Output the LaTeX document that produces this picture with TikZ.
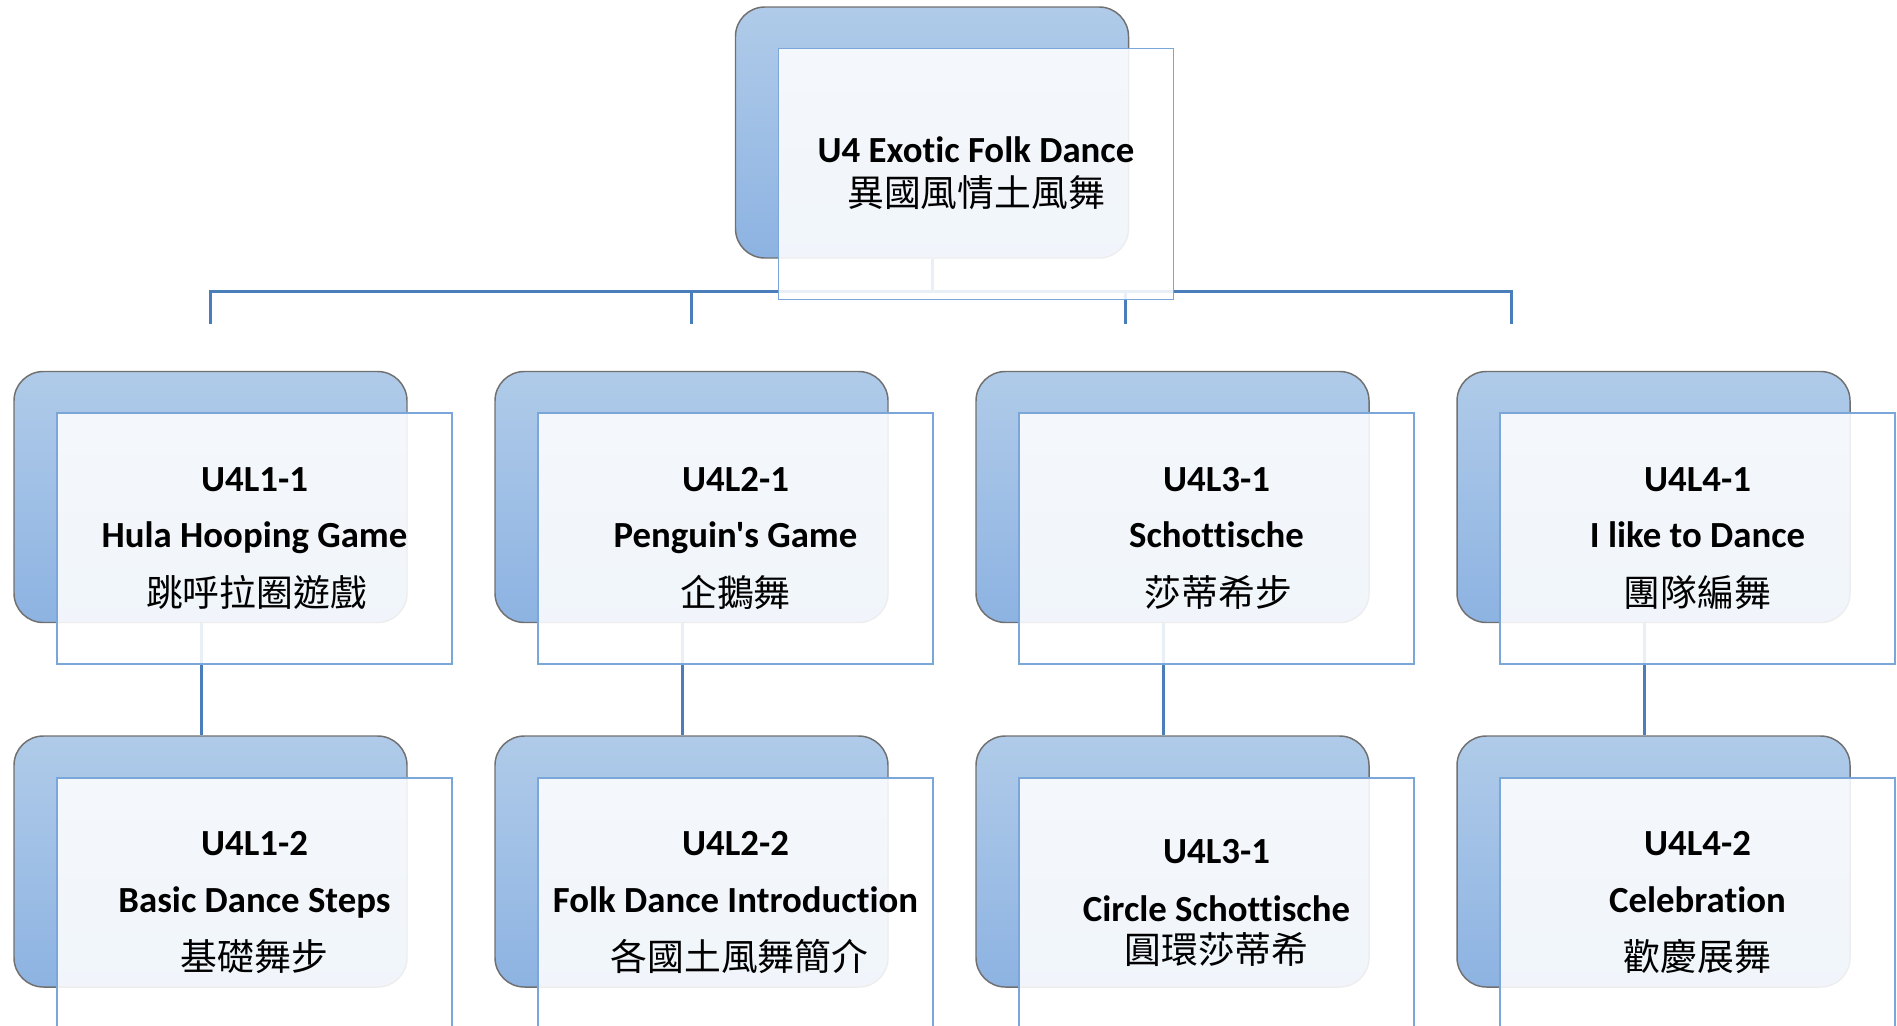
\documentclass[tikz,border=0pt]{standalone}
\usepackage{fontspec}
\setmainfont{Carlito}[Ligatures={TeXOff,CommonOff}]
\newfontfamily\cjk{Noto Sans CJK TC}
\usetikzlibrary{calc}

\definecolor{gradtop}{RGB}{176,203,233}
\definecolor{gradbot}{RGB}{141,179,226}
\definecolor{tabedge}{RGB}{112,112,112}
\definecolor{cardedge}{RGB}{122,166,218}
\definecolor{linkblue}{RGB}{74,126,187}

\tikzset{
  tab/.style={draw=tabedge, line width=1.1pt, rounded corners=22pt,
    top color=gradtop, bottom color=gradbot,
    minimum width=294.75pt, minimum height=188.25pt, inner sep=0pt},
  card/.style={draw=cardedge, line width=1pt, fill=white, fill opacity=0.88,
    minimum width=296.25pt, minimum height=188.25pt, inner sep=0pt},
  link/.style={draw=linkblue, line width=2.25pt, line join=miter},
  en/.style={font=\bfseries\fontsize{27.6}{30}\selectfont, anchor=base, inner sep=0pt},
  zh/.style={font=\cjk\fontsize{27.6}{30}\selectfont, anchor=base, inner sep=0pt},
}

\begin{document}
\begin{tikzpicture}[x=0.75pt,y=-0.75pt]
\useasboundingbox (0,0) rectangle (1897,1025);

% rounded tabs
\node[tab] (root) at (932,132.5) {};
\node[tab] (c1) at (210.5,497) {};
\node[tab] (c2) at (691.5,497) {};
\node[tab] (c3) at (1172.5,497) {};
\node[tab] (c4) at (1653.5,497) {};
\node[tab] (g1) at (210.5,861.5) {};
\node[tab] (g2) at (691.5,861.5) {};
\node[tab] (g3) at (1172.5,861.5) {};
\node[tab] (g4) at (1653.5,861.5) {};

% connectors
\coordinate (bus) at (932,291);
\coordinate (d1) at (210,324);
\coordinate (d2) at (691,324);
\coordinate (d3) at (1125,324);
\coordinate (d4) at (1511,324);
\draw[link] (root.south) -- (bus);
\draw[link] (d1) -- (d1 |- bus) -- (d4 |- bus) -- (d4);
\draw[link] (d2) -- (d2 |- bus);
\draw[link] (d3) -- (d3 |- bus);
\foreach \i in {1,2,3,4}
  \draw[link] ($(c\i.south)+(-9.5,0)$) -- ($(g\i.north)+(-9.5,0)$);

% translucent cards
\node[card] (k0) at (976,174) {};
\node[card] (k1) at (254.5,538.5) {};
\node[card] (k2) at (735.5,538.5) {};
\node[card] (k3) at (1216.5,538.5) {};
\node[card] (k4) at (1697.5,538.5) {};
\node[card] (h1) at (254.5,903.5) {};
\node[card] (h2) at (735.5,903.5) {};
\node[card] (h3) at (1216.5,903.5) {};
\node[card] (h4) at (1697.5,903.5) {};

% labels
\node[en] (r0a) at (976,162) {U4 Exotic Folk Dance};
\node[zh] (r0b) at (976,206) {異國風情土風舞};

\node[en] (a1) at (254.5,491) {U4L1-1};
\node[en] (b1) at (254.5,547) {Hula Hooping Game};
\node[zh] (z1) at (256.5,606) {跳呼拉圈遊戲};

\node[en] (a2) at (735.5,491) {U4L2-1};
\node[en] (b2) at (735.5,547) {Penguin's Game};
\node[zh] (z2) at (735.5,606) {企鵝舞};

\node[en] (a3) at (1216.5,491) {U4L3-1};
\node[en] (b3) at (1216.5,547) {Schottische};
\node[zh] (z3) at (1218.5,606) {莎蒂希步};

\node[en] (a4) at (1697.5,491) {U4L4-1};
\node[en] (b4) at (1697.5,547) {I like to Dance};
\node[zh] (z4) at (1697.5,606) {團隊編舞};

\node[en] (p1) at (254.5,855) {U4L1-2};
\node[en] (q1) at (254.5,912) {Basic Dance Steps};
\node[zh] (s1) at (254.5,970) {基礎舞步};

\node[en] (p2) at (735.5,855) {U4L2-2};
\node[en] (q2) at (735.5,912) {Folk Dance Introduction};
\node[zh] (s2) at (739.5,970) {各國土風舞簡介};

\node[en] (p3) at (1216.5,863) {U4L3-1};
\node[en] (q3) at (1216.5,921) {Circle Schottische};
\node[zh] (s3) at (1216.5,963) {圓環莎蒂希};

\node[en] (p4) at (1697.5,855) {U4L4-2};
\node[en] (q4) at (1697.5,912) {Celebration};
\node[zh] (s4) at (1697.5,970) {歡慶展舞};
\end{tikzpicture}
\end{document}
